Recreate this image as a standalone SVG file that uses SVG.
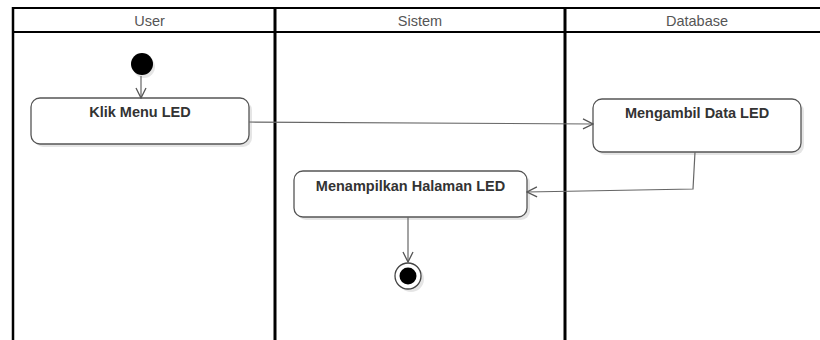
<svg xmlns="http://www.w3.org/2000/svg" width="820" height="340" viewBox="0 0 820 340">
  <style>
    .lane { stroke: #000; fill: none; }
    .head { font-family: "Liberation Sans", Arial, sans-serif; font-size: 14.5px; fill: #555; text-anchor: middle; }
    .act { fill: #fff; stroke: #555; stroke-width: 1.3; }
    .shadow { fill: #000; opacity: 0.1; }
    .label { font-family: "Liberation Sans", Arial, sans-serif; font-size: 14.5px; font-weight: bold; fill: #333; text-anchor: middle; }
    .flow { fill: none; stroke: #666; stroke-width: 1.2; }
  </style>
  <defs>
    <marker id="open" viewBox="0 0 12 12" refX="11" refY="6" markerWidth="12" markerHeight="12" markerUnits="userSpaceOnUse" orient="auto">
      <path d="M1,1 L11,6 L1,11" fill="none" stroke="#555" stroke-width="1.3"/>
    </marker>
  </defs>
  <rect width="820" height="340" fill="#fff"/>

  <!-- swimlanes -->
  <g id="lanes">
    <line class="lane" x1="13" y1="8" x2="820" y2="8" stroke-width="2"/>
    <line class="lane" x1="13" y1="32" x2="820" y2="32" stroke-width="2"/>
    <line class="lane" x1="13" y1="7" x2="13" y2="340" stroke-width="2.5"/>
    <line class="lane" x1="275" y1="7" x2="275" y2="340" stroke-width="3"/>
    <line class="lane" x1="565" y1="7" x2="565" y2="340" stroke-width="3"/>
    <text class="head" x="149.5" y="25.5">User</text>
    <text class="head" x="420" y="25.5">Sistem</text>
    <text class="head" x="697" y="25.5">Database</text>
  </g>

  <!-- start -->
  <g id="start">
    <circle class="shadow" cx="144" cy="67" r="11"/>
    <circle cx="142" cy="64" r="11" fill="#000"/>
  </g>

  <g id="klik-menu">
    <rect class="shadow" x="34" y="101" width="218" height="46" rx="9"/>
    <rect class="act" x="31" y="98" width="218" height="46" rx="9"/>
    <text class="label" x="140" y="117">Klik Menu LED</text>
  </g>

  <g id="ambil-data">
    <rect class="shadow" x="596" y="102" width="208" height="53" rx="9"/>
    <rect class="act" x="593" y="99" width="208" height="53" rx="9"/>
    <text class="label" x="697" y="118">Mengambil Data LED</text>
  </g>

  <g id="tampil-halaman">
    <rect class="shadow" x="297" y="174" width="233" height="46" rx="9"/>
    <rect class="act" x="294" y="171" width="233" height="46" rx="9"/>
    <text class="label" x="410.5" y="191">Menampilkan Halaman LED</text>
  </g>

  <!-- end -->
  <g id="end">
    <circle class="shadow" cx="411" cy="279" r="13"/>
    <circle cx="408" cy="276" r="13" fill="#fff" stroke="#444" stroke-width="1.3"/>
    <circle cx="408" cy="276" r="8.5" fill="#000"/>
  </g>

  <g id="connectors">
    <path class="flow" d="M141,76 L141,98" marker-end="url(#open)"/>
    <path class="flow" d="M249,122 L593,124" marker-end="url(#open)"/>
    <path class="flow" d="M695,152 L693,189 L527,192" marker-end="url(#open)"/>
    <path class="flow" d="M408,217 L408,262" marker-end="url(#open)"/>
  </g>
</svg>
